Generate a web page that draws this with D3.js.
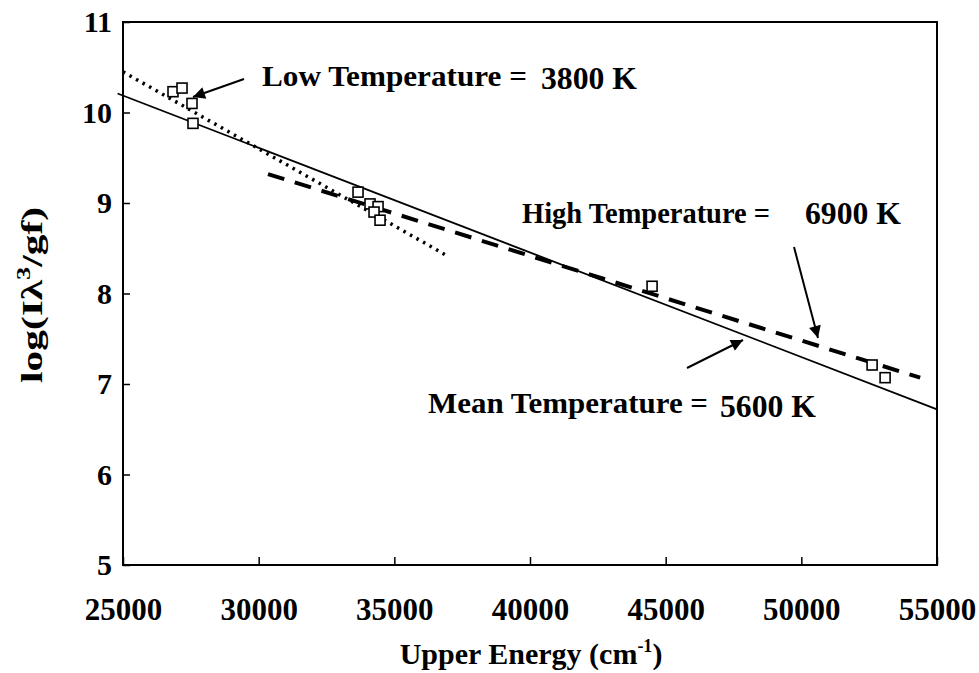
<!DOCTYPE html>
<html>
<head>
<meta charset="utf-8">
<script src="https://cdnjs.cloudflare.com/ajax/libs/d3/7.8.5/d3.min.js"></script>
<style>
  body { margin: 0; background: #fff; }
  svg text { font-family: "Liberation Serif", "DejaVu Serif", serif; font-weight: bold; }
</style>
</head>
<body>
<svg width="979" height="673"></svg>
<script>
// measured points: upper energy (cm^-1) and log(I lambda^3 / gf)
var energy = [26843, 27175, 27543, 27580, 33662, 34104, 34400, 34252, 34473, 44499, 52608, 53087];
var logVal = [10.23, 10.27, 10.10, 9.88, 9.12, 8.99, 8.96, 8.90, 8.81, 8.08, 7.21, 7.07];

// fitted lines (end points)
var meanFit = [[24800, 10.21], [55000, 6.72]];
var lowFit  = [[25000, 10.45], [36870, 8.43]];
var highFit = [[30345, 9.32], [54380, 7.07]];

var xTicks = [25000, 30000, 35000, 40000, 45000, 50000, 55000];
var yTicks = [5, 6, 7, 8, 9, 10, 11];

var svg = d3.select("svg");

var margin = {left: 123, right: 42, top: 22, bottom: 108};
var width = 979 - margin.left - margin.right,
    height = 673 - margin.top - margin.bottom;

var x = d3.scaleLinear().domain([25000, 55000]).range([0, width]);
var y = d3.scaleLinear().domain([5, 11]).range([height, 0]);

var g = svg.append("g").attr("transform", "translate(" + margin.left + "," + margin.top + ")");

// frame
g.append("rect")
    .attr("width", width).attr("height", height)
    .attr("fill", "none").attr("stroke", "#000").attr("stroke-width", 2);

var xAxis = g.append("g")
    .attr("transform", "translate(0," + height + ")")
    .call(d3.axisBottom(x).tickValues(xTicks).tickSize(-8).tickPadding(33).tickFormat(d3.format("d")));
xAxis.attr("font-size", 31);
xAxis.select(".domain").remove();
xAxis.selectAll("line").attr("stroke-width", 1.5);

var yAxis = g.append("g")
    .call(d3.axisLeft(y).tickValues(yTicks).tickSize(-7).tickPadding(11).tickFormat(d3.format("d")));
yAxis.attr("font-size", 30);
yAxis.select(".domain").remove();
yAxis.selectAll("line").attr("stroke-width", 1.5);

// axis titles
svg.append("text")
    .attr("x", 531).attr("y", 664)
    .attr("text-anchor", "middle")
    .attr("font-size", 30)
    .html('Upper Energy (cm<tspan dy="-12" font-size="18">-1</tspan><tspan dy="12">)</tspan>');

svg.append("text")
    .attr("transform", "translate(42,295) rotate(-90)")
    .attr("text-anchor", "middle")
    .attr("font-size", 30)
    .attr("textLength", 176)
    .attr("lengthAdjust", "spacingAndGlyphs")
    .html('log(I\u03bb<tspan dy="-12" font-size="19">3</tspan><tspan dy="12">/gf)</tspan>');

var line = d3.line().x(function(d) { return x(d[0]); }).y(function(d) { return y(d[1]); });

g.append("path").datum(meanFit).attr("d", line)
    .attr("fill", "none").attr("stroke", "#000").attr("stroke-width", 1.8);
g.append("path").datum(lowFit).attr("d", line)
    .attr("fill", "none").attr("stroke", "#000").attr("stroke-width", 3.5)
    .attr("stroke-dasharray", "2.5,5");
g.append("path").datum(highFit).attr("d", line)
    .attr("fill", "none").attr("stroke", "#000").attr("stroke-width", 4)
    .attr("stroke-dasharray", "17,11");

// data squares
g.selectAll("rect.pt")
    .data(d3.range(energy.length))
    .enter().append("rect")
      .attr("class", "pt")
      .attr("x", function(i) { return x(energy[i]) - 5; })
      .attr("y", function(i) { return y(logVal[i]) - 5; })
      .attr("width", 10).attr("height", 10)
      .attr("fill", "#fff").attr("stroke", "#000").attr("stroke-width", 1.6);

// annotations
svg.append("defs").append("marker")
    .attr("id", "head").attr("viewBox", "0 0 10 10")
    .attr("refX", 10).attr("refY", 5)
    .attr("markerWidth", 7).attr("markerHeight", 6)
    .attr("markerUnits", "strokeWidth")
    .attr("orient", "auto")
  .append("path").attr("d", "M0,0 L10,5 L0,10 Z").attr("fill", "#000");

var notes = [
  {label: "Low Temperature =", lx: 262, ly: 86, lw: 265, val: "3800 K", vx: 541, vy: 89, from: [244, 79], to: [193, 97]},
  {label: "High Temperature =", lx: 522, ly: 223, lw: 248, val: "6900 K", vx: 805, vy: 224, from: [794, 247], to: [818, 338]},
  {label: "Mean Temperature =", lx: 428, ly: 413, lw: 280, val: "5600 K", vx: 720, vy: 417, from: [687, 368], to: [743, 340]}
];

notes.forEach(function(n) {
  svg.append("text").attr("x", n.lx).attr("y", n.ly).attr("font-size", 30)
      .attr("textLength", n.lw).attr("lengthAdjust", "spacingAndGlyphs").text(n.label);
  svg.append("text").attr("x", n.vx).attr("y", n.vy).attr("font-size", 31)
      .attr("textLength", 96).attr("lengthAdjust", "spacingAndGlyphs").text(n.val);
  svg.append("line")
      .attr("x1", n.from[0]).attr("y1", n.from[1])
      .attr("x2", n.to[0]).attr("y2", n.to[1])
      .attr("stroke", "#000").attr("stroke-width", 2)
      .attr("marker-end", "url(#head)");
});
</script>
</body>
</html>
